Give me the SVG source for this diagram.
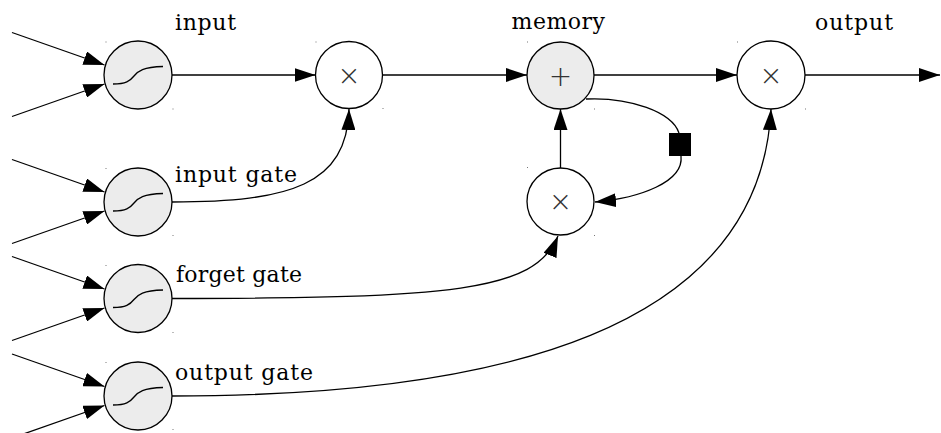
<svg xmlns="http://www.w3.org/2000/svg" width="941" height="433" viewBox="0 0 941 433">
  <style>
    .edge { fill: none; stroke: #000; stroke-width: 1.3; }
    .arr { marker-end: url(#tip); }
    .unit { stroke: #000; stroke-width: 1.3; }
    .gray { fill: #ececec; }
    .white { fill: #fff; }
    .sig { fill: none; stroke: #000; stroke-width: 1.3; }
    .lbl { font-family: 'DejaVu Serif', 'Liberation Serif', serif; font-size: 22px; fill: #000; }
    .op { font-family: 'DejaVu Sans', 'Liberation Sans', sans-serif; font-size: 28px; font-weight: 300; fill: #333; text-anchor: middle; }
    .dot { fill: #777; }
  </style>
  <defs>
    <marker id="tip" markerUnits="userSpaceOnUse" viewBox="0 0 21 14" refX="21" refY="7" markerWidth="21" markerHeight="14" orient="auto">
      <path d="M0,0 L21,7 L0,14 Z" fill="#000"/>
    </marker>
    <!-- logistic curve drawn inside each gate unit -->
    <path id="sigmoid" d="M-25,9 C-12,9 -8,6 -4,1 S5,-8 25,-8.5"/>
  </defs>

  <!-- connectors -->
  <g id="edges">
    <!-- external inputs into each logistic unit -->
    <path class="edge arr" d="M12,32.5 L104.5,65"/>
    <path class="edge arr" d="M12,116.5 L104.5,84"/>
    <path class="edge arr" d="M12,159.5 L104.5,192"/>
    <path class="edge arr" d="M12,243.5 L104.5,211"/>
    <path class="edge arr" d="M12,256.5 L104.5,289"/>
    <path class="edge arr" d="M12,340.5 L104.5,308"/>
    <path class="edge arr" d="M12,354 L104.5,386.5"/>
    <path class="edge arr" d="M12,438 L104.5,405.5"/>

    <!-- main path along the top -->
    <path class="edge arr" d="M172,75 L315.5,75"/>
    <path class="edge arr" d="M382.5,75 L527,75"/>
    <path class="edge arr" d="M594,75 L737,75"/>
    <path class="edge arr" d="M805,75 L940,75"/>

    <!-- gate signals -->
    <path class="edge arr" d="M172,202 C290,202 347,185 349,109"/>
    <path class="edge arr" d="M172,298.5 C450,298 535,292 558,236"/>
    <path class="edge arr" d="M172,396 C500,396 760,330 771,109"/>

    <!-- memory recurrence -->
    <path class="edge arr" d="M560.5,168 L560.5,109"/>
    <path class="edge" d="M586,99 C630,97 672,112 679,133"/>
    <path class="edge arr" d="M681,156 C684,182 640,198 595,202"/>
  </g>

  <!-- logistic units -->
  <g id="input">
    <circle class="unit gray" cx="138" cy="75" r="34"/>
    <use href="#sigmoid" class="sig" x="138" y="75"/>
    <text class="lbl" x="175" y="30" textLength="61">input</text>
  </g>
  <g id="input-gate">
    <circle class="unit gray" cx="138" cy="202" r="34"/>
    <use href="#sigmoid" class="sig" x="138" y="202"/>
    <text class="lbl" x="175" y="182" textLength="122">input gate</text>
  </g>
  <g id="forget-gate">
    <circle class="unit gray" cx="138" cy="298.5" r="34"/>
    <use href="#sigmoid" class="sig" x="138" y="298.5"/>
    <text class="lbl" x="176" y="282" textLength="126">forget gate</text>
  </g>
  <g id="output-gate">
    <circle class="unit gray" cx="138" cy="396" r="34"/>
    <use href="#sigmoid" class="sig" x="138" y="396"/>
    <text class="lbl" x="175" y="380" textLength="138">output gate</text>
  </g>

  <!-- multiplicative and additive units -->
  <g id="input-mul">
    <circle class="unit white" cx="349" cy="75" r="33.5"/>
    <text class="op" x="349" y="84.5">×</text>
  </g>
  <g id="memory">
    <circle class="unit gray" cx="560.5" cy="75.5" r="33.5"/>
    <text class="op" x="560.5" y="85.5">+</text>
    <text class="lbl" x="511.5" y="29" textLength="93.5">memory</text>
  </g>
  <g id="forget-mul">
    <circle class="unit white" cx="560.5" cy="201.5" r="33.5"/>
    <text class="op" x="560.5" y="211">×</text>
  </g>
  <g id="output-mul">
    <circle class="unit white" cx="771" cy="75" r="34"/>
    <text class="op" x="771" y="84.5">×</text>
    <text class="lbl" x="815" y="30" textLength="78">output</text>
  </g>
  <g id="delay">
    <rect x="669" y="133" width="22" height="23" fill="#000"/>
  </g>

  <!-- small corner ticks around the units -->
  <g id="ticks">
    <rect class="dot" x="105.5" y="41.5" width="1" height="1"/>
    <rect class="dot" x="172.5" y="108.5" width="1" height="1"/>
    <rect class="dot" x="105.5" y="168" width="1" height="1"/>
    <rect class="dot" x="172.5" y="235" width="1" height="1"/>
    <rect class="dot" x="105.5" y="265" width="1" height="1"/>
    <rect class="dot" x="172.5" y="332" width="1" height="1"/>
    <rect class="dot" x="105.5" y="362" width="1" height="1"/>
    <rect class="dot" x="172.5" y="429" width="1" height="1"/>
    <rect class="dot" x="315.5" y="41.5" width="1" height="1"/>
    <rect class="dot" x="382.5" y="108" width="1" height="1"/>
    <rect class="dot" x="527" y="41.5" width="1" height="1"/>
    <rect class="dot" x="594" y="108.5" width="1" height="1"/>
    <rect class="dot" x="527" y="167" width="1" height="1"/>
    <rect class="dot" x="594" y="235" width="1" height="1"/>
    <rect class="dot" x="737" y="41.5" width="1" height="1"/>
    <rect class="dot" x="805" y="108.5" width="1" height="1"/>
  </g>
</svg>
